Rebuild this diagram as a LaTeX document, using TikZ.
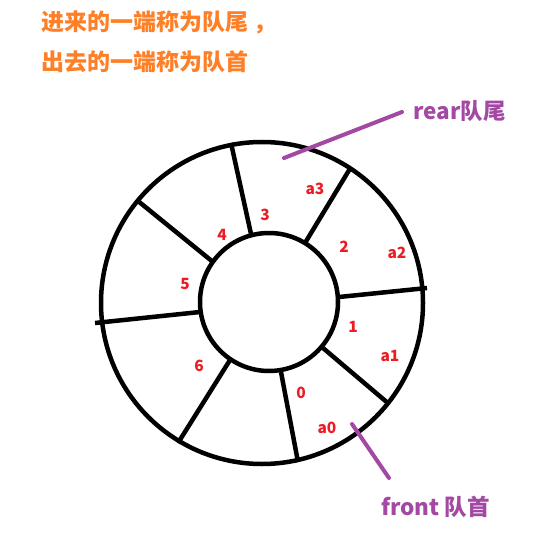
\documentclass[tikz,border=0pt]{standalone}
\usepackage{fontspec}
\newfontfamily\cjk{Noto Sans CJK SC}
\definecolor{qorange}{RGB}{255,127,39}
\definecolor{qpurple}{RGB}{163,73,164}
\definecolor{qred}{RGB}{237,28,36}
\begin{document}
\begin{tikzpicture}[x=1pt,y=-1pt,
  ring/.style={line width=4.5pt,black},
  spoke/.style={line width=4.5pt,black},
  pointer/.style={line width=4pt,qpurple,line cap=round},
  idx/.style={text=qred,font=\cjk\bfseries\fontsize{15.5}{17}\selectfont,inner sep=0pt},
  note/.style={text=qorange,font=\cjk\bfseries\fontsize{23}{26}\selectfont,inner sep=0pt,anchor=west},
  tag/.style={text=qpurple,font=\cjk\bfseries\fontsize{22.5}{26}\selectfont,inner sep=0pt,anchor=west}]
\useasboundingbox (0,0) rectangle (556,540);
\fill[white] (0,0) rectangle (556,540);
% rings
\node[ring,draw,circle,minimum size=322pt,inner sep=0pt] (outer) at (262,303) {};
\node[ring,draw,circle,minimum size=138pt,inner sep=0pt] (inner) at (269,302) {};
% spoke coordinates
\coordinate (o1) at (231,143); \coordinate (i1) at (251,234);
\coordinate (o2) at (351,167); \coordinate (i2) at (305,243);
\coordinate (o3) at (427,288); \coordinate (i3) at (339,297);
\coordinate (o4) at (389,404); \coordinate (i4) at (323,348);
\coordinate (o5) at (298,462); \coordinate (i5) at (281,372);
\coordinate (o6) at (178,443); \coordinate (i6) at (230,360);
\coordinate (o7) at (95,323);  \coordinate (i7) at (200,312);
\coordinate (o8) at (138,201); \coordinate (i8) at (213,262);
\foreach \k in {1,...,8} \draw[spoke] (o\k) -- (i\k);
% labels
\node[idx] (l3) at (265,215) {3};
\node[idx] (la3) at (315,189) {a3};
\node[idx] (l4) at (222,235) {4};
\node[idx] (l2) at (344,247) {2};
\node[idx] (la2) at (397,253) {a2};
\node[idx] (l5) at (185,284) {5};
\node[idx] (l1) at (353,327) {1};
\node[idx] (la1) at (390,356) {a1};
\node[idx] (l6) at (199,366) {6};
\node[idx] (l0) at (301,393) {0};
\node[idx] (la0) at (327,428) {a0};
% notes
\node[note] (n1) at (41,22) {进来的一端称为队尾 ，};
\node[note] (n2) at (41,62) {出去的一端称为队首};
% pointers
\node[tag] (rear) at (413,111) {rear队尾};
\node[tag] (front) at (381,507) {front 队首};
\coordinate (r1) at (284,158); \coordinate (r2) at (402,112);
\coordinate (f1) at (352,424); \coordinate (f2) at (389,478);
\draw[pointer] (r1) -- (r2);
\draw[pointer] (f1) -- (f2);
\end{tikzpicture}
\end{document}
